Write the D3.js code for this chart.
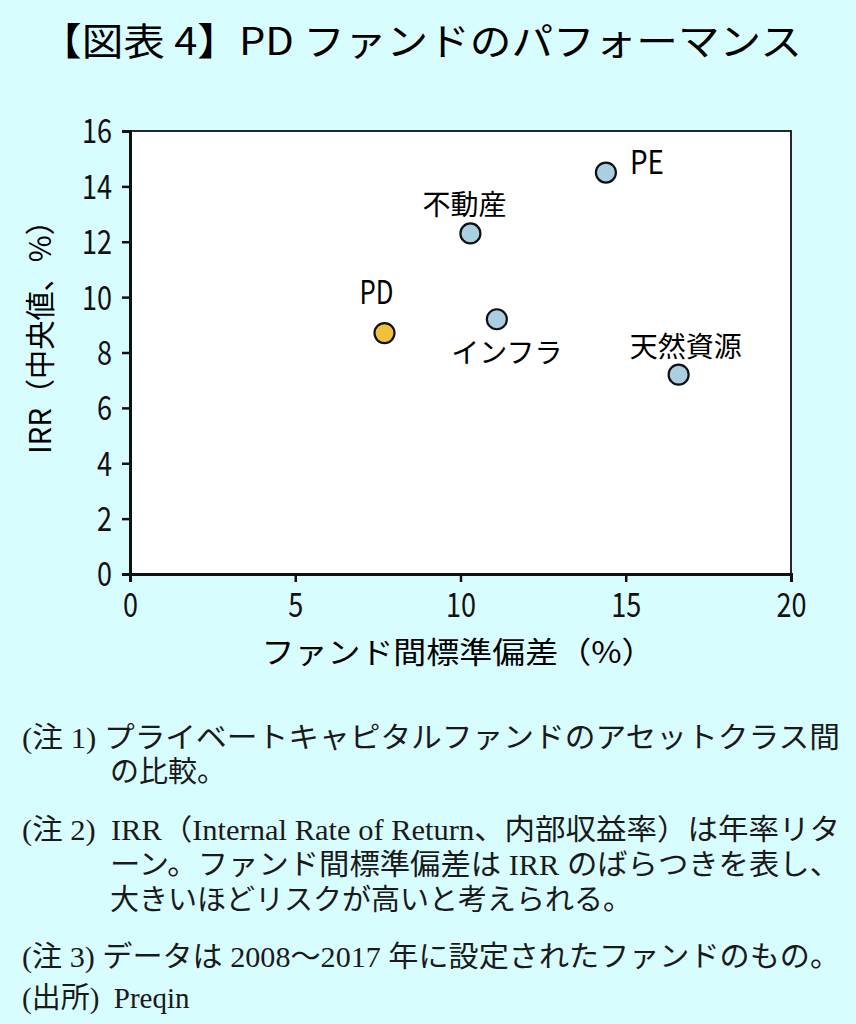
<!DOCTYPE html>
<html>
<head>
<meta charset="utf-8">
<script src="https://cdn.jsdelivr.net/npm/d3@7"></script>
<style>
  body { margin: 0; background: #d8fdfe; }
  svg { display: block; }
</style>
</head>
<body>
<svg id="chart"></svg>
<script>
// data
const names = ["PE", "不動産", "PD", "インフラ", "天然資源"];
const stdev = [14.4, 10.3, 7.7, 11.1, 16.6];
const irr = [14.5, 12.3, 8.7, 9.2, 7.2];
const xTicks = [0, 5, 10, 15, 20];
const yTicks = [0, 2, 4, 6, 8, 10, 12, 14, 16];

const titleText = "【図表 4】PD ファンドのパフォーマンス";
const xLabel = "ファンド間標準偏差（%）";
const yLabel = "IRR（中央値、%）";
const notes = [
    "(注 1) プライベートキャピタルファンドのアセットクラス間",
    "の比較。",
    "(注 2)  IRR（Internal Rate of Return、内部収益率）は年率リタ",
    "ーン。ファンド間標準偏差は IRR のばらつきを表し、",
    "大きいほどリスクが高いと考えられる。",
    "(注 3) データは 2008～2017 年に設定されたファンドのもの。",
    "(出所)  Preqin"
];

const width = 856, height = 1024;
const margin = {top: 131, right: 65, bottom: 450, left: 130};
const gothic = "'Noto Sans CJK JP', 'Noto Sans', sans-serif";
const serif = "'Liberation Serif', 'Noto Sans CJK JP', serif";

const svg = d3.select("#chart")
    .attr("width", width)
    .attr("height", height);

svg.append("rect")
    .attr("width", width)
    .attr("height", height)
    .attr("fill", "#d8fdfe");

const x = d3.scaleLinear().domain([0, 20]).range([margin.left, width - margin.right]);
const y = d3.scaleLinear().domain([0, 16]).range([height - margin.bottom, margin.top]);

// title
svg.append("text")
    .attr("x", 40)
    .attr("y", 55)
    .attr("textLength", 762)
    .attr("lengthAdjust", "spacingAndGlyphs")
    .style("font-family", gothic)
    .style("font-size", "38px")
    .style("font-weight", 400)
    .text(titleText);

// plot area
svg.append("rect")
    .attr("x", x(0))
    .attr("y", y(16))
    .attr("width", x(20) - x(0))
    .attr("height", y(0) - y(16))
    .attr("fill", "white")
    .attr("stroke", "#111")
    .attr("stroke-width", 1.8);

const xAxis = svg.append("g")
    .attr("transform", `translate(0,${y(0)})`)
    .call(d3.axisBottom(x).tickValues(xTicks).tickSize(8).tickPadding(10));
const yAxis = svg.append("g")
    .attr("transform", `translate(${x(0)},0)`)
    .call(d3.axisLeft(y).tickValues(yTicks).tickSize(8).tickPadding(10));

// condensed tick digits like the original
[xAxis, yAxis].forEach(g => {
    g.select(".domain").attr("stroke", "#111").attr("stroke-width", 3);
    g.selectAll(".tick line").attr("stroke", "#111").attr("stroke-width", 2.5);
    g.selectAll(".tick text")
        .attr("fill", "#111")
        .attr("textLength", d => String(d).length * 15)
        .attr("lengthAdjust", "spacingAndGlyphs")
        .style("font-family", gothic)
        .style("font-size", "34px");
});
xAxis.selectAll(".tick text").attr("dy", "0.74em");
yAxis.selectAll(".tick text").attr("dy", "0.35em");

// axis titles
svg.append("text")
    .attr("x", 458)
    .attr("y", 663)
    .attr("text-anchor", "middle")
    .attr("textLength", 393)
    .attr("lengthAdjust", "spacingAndGlyphs")
    .style("font-family", gothic)
    .style("font-size", "30px")
    .text(xLabel);

svg.append("text")
    .attr("transform", `translate(51,330) rotate(-90)`)
    .attr("text-anchor", "middle")
    .attr("textLength", 248)
    .attr("lengthAdjust", "spacingAndGlyphs")
    .style("font-family", gothic)
    .style("font-size", "30px")
    .text(yLabel);

// points
const labelPos = {
    "PE": [24, 1, "start"],
    "不動産": [-6, -18, "middle"],
    "PD": [-8, -29, "middle"],
    "インフラ": [10, 44, "middle"],
    "天然資源": [7, -18, "middle"]
};

const pts = svg.append("g")
    .selectAll("g")
    .data(names)
    .join("g")
    .attr("transform", (d, i) => `translate(${x(stdev[i])},${y(irr[i])})`);

pts.append("circle")
    .attr("r", 10)
    .attr("fill", d => d === "PD" ? "#f0c23c" : "#a9cfe0")
    .attr("stroke", "#111")
    .attr("stroke-width", 2.2);

pts.append("text")
    .attr("x", d => labelPos[d][0])
    .attr("y", d => labelPos[d][1])
    .attr("text-anchor", d => labelPos[d][2])
    .attr("textLength", d => /^[A-Z]+$/.test(d) ? 34 : null)
    .attr("lengthAdjust", "spacingAndGlyphs")
    .style("font-family", gothic)
    .style("font-size", d => /^[A-Z]+$/.test(d) ? "32px" : "28px")
    .text(d => d);

// notes
const noteLayout = [
    [22, 748, 818], [110, 782, null],
    [22, 840, 818], [110, 875, 730], [110, 910, null],
    [22, 967, 818], [22, 1008, null]
];
svg.append("g")
    .selectAll("text")
    .data(notes)
    .join("text")
    .attr("x", (d, i) => noteLayout[i][0])
    .attr("y", (d, i) => noteLayout[i][1])
    .attr("textLength", (d, i) => noteLayout[i][2])
    .attr("lengthAdjust", "spacingAndGlyphs")
    .attr("fill", "#1a1a1a")
    .style("font-family", serif)
    .style("font-size", "29px")
    .style("white-space", "pre")
    .text(d => d);
</script>
</body>
</html>
